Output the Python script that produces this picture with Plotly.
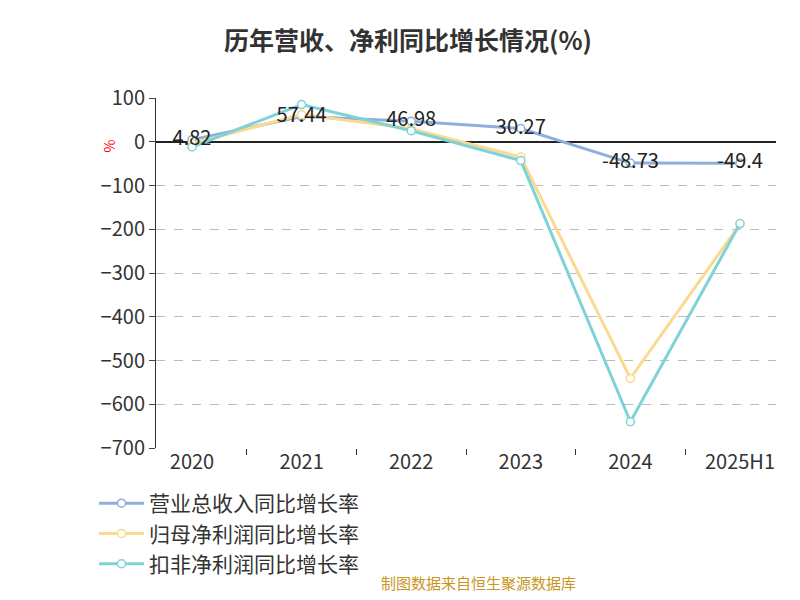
import plotly.graph_objects as go

categories = ["2020", "2021", "2022", "2023", "2024", "2025H1"]
revenue = [4.82, 57.44, 46.98, 30.27, -48.73, -49.4]
net_profit = [-4, 62, 30, -35, -541, -188]
deducted = [-12, 85, 25, -43, -640, -187]
revenue_labels = ["4.82", "57.44", "46.98", "30.27", "-48.73", "-49.4"]

fig = go.Figure()
series = [
    ("营业总收入同比增长率", revenue, "#8eaedb"),
    ("归母净利润同比增长率", net_profit, "#fbd98f"),
    ("扣非净利润同比增长率", deducted, "#7fd3d6"),
]
for name, vals, col in series:
    fig.add_trace(go.Scatter(
        x=categories, y=vals, name=name, mode="lines+markers",
        line=dict(color=col, width=3),
        marker=dict(size=8, color="white", line=dict(color=col, width=1.5)),
    ))
fig.add_trace(go.Scatter(
    x=categories, y=revenue, mode="text", text=revenue_labels,
    textposition="middle center", textfont=dict(size=20, color="#222"),
    showlegend=False, hoverinfo="skip",
))

fig.update_layout(
    width=800, height=600, plot_bgcolor="white", paper_bgcolor="white",
    margin=dict(l=148, r=32, t=90, b=160, autoexpand=False),
    font=dict(family="Noto Sans CJK SC", color="#333"),
    title=dict(text="<b>历年营收、净利同比增长情况(%)</b>", x=0.5, y=0.96,
               xanchor="center", font=dict(size=25, color="#333")),
    xaxis=dict(type="category", tickfont=dict(size=20, color="#333"),
               showgrid=False, ticks="outside", tickson="boundaries",
               ticklen=6, tickcolor="#333", showline=False),
    yaxis=dict(range=[-700, 100], dtick=100, tickfont=dict(size=20, color="#333"),
               showgrid=True, gridcolor="#bbb", griddash="dash",
               zeroline=True, zerolinecolor="#222", zerolinewidth=1.5,
               showline=True, linecolor="#333", ticks="outside", ticklen=6),
    legend=dict(orientation="h", x=-0.1, y=-0.1, xanchor="left", yanchor="top",
                font=dict(size=21, color="#333"), entrywidth=335, itemwidth=45),
    annotations=[
        dict(text="%", x=(88-148)/620, y=(440-130)/350, xref="paper", yref="paper",
             showarrow=False, textangle=-90, font=dict(size=14, color="red")),
        dict(text="制图数据来自恒生聚源数据库", x=(470-148)/620, y=-0.42, xref="paper",
             yref="paper", showarrow=False, font=dict(size=15, color="#c8961e")),
    ],
)
fig.write_html("out.html")
